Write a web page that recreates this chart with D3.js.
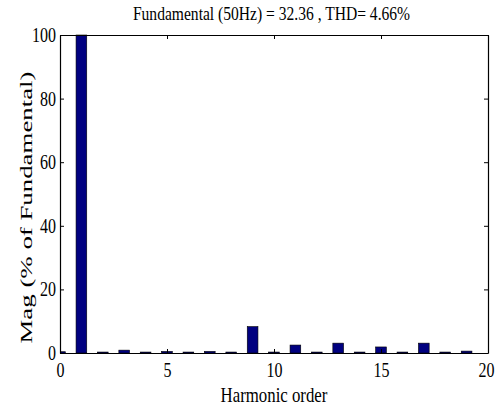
<!DOCTYPE html>
<html>
<head>
<meta charset="utf-8">
<script src="https://cdn.jsdelivr.net/npm/d3@7"></script>
<style>
body { margin: 0; background: #fff; }
text { font-family: "Liberation Serif", "Times New Roman", serif; }
</style>
</head>
<body>
<div id="chart"></div>
<script>
var harmonics = [0, 1, 2, 3, 4, 5, 6, 7, 8, 9, 10, 11, 12, 13, 14, 15, 16, 17, 18, 19]
var mags = [0.4, 100, 0.3, 0.9, 0.3, 0.5, 0.3, 0.5, 0.3, 8.3, 0.3, 2.5, 0.3, 3.1, 0.3, 1.9, 0.3, 3.1, 0.3, 0.6]
var xTicks = [0, 5, 10, 15, 20]
var yTicks = [0, 20, 40, 60, 80, 100]
var titleText = 'Fundamental (50Hz) = 32.36 , THD= 4.66%'

var width = 498, height = 410
var margin = {top: 35, right: 10, bottom: 57, left: 60}

var x = d3.scaleLinear()
    .domain([0, 20])
    .range([margin.left, width - margin.right])

var y = d3.scaleLinear()
    .domain([0, 100])
    .range([height - margin.bottom, margin.top])

var svg = d3.select('#chart').append('svg')
    .attr('width', width)
    .attr('height', height)

// the original figure was squashed sideways, so squeeze text to match
function squeeze(sel, f) {
    sel.each(function() {
        var len = this.getComputedTextLength()
        d3.select(this).attr('textLength', len * f).attr('lengthAdjust', 'spacingAndGlyphs')
    })
}

svg.append('defs').append('clipPath')
    .attr('id', 'plotclip')
    .append('rect')
    .attr('x', margin.left)
    .attr('y', margin.top - 1)
    .attr('width', width - margin.left - margin.right)
    .attr('height', height - margin.top - margin.bottom + 1)

// bars
var barW = x(0.5) - x(0)
svg.append('g')
    .attr('clip-path', 'url(#plotclip)')
    .selectAll('rect')
    .data(harmonics)
    .enter().append('rect')
    .attr('x', (d, i) => x(d) - barW / 2)
    .attr('y', (d, i) => y(mags[i]))
    .attr('width', barW)
    .attr('height', (d, i) => y(0) - y(mags[i]))
    .attr('fill', '#000080')
    .attr('stroke', '#000')
    .attr('stroke-width', 0.6)

// axes, ticks inward like matlab
var xAx = svg.append('g')
    .attr('transform', 'translate(0,' + y(0) + ')')
    .call(d3.axisBottom(x).tickValues(xTicks).tickSizeInner(-4).tickSizeOuter(0).tickPadding(10))
svg.append('g')
    .attr('transform', 'translate(0,' + y(100) + ')')
    .call(d3.axisTop(x).tickValues(xTicks).tickSizeInner(-4).tickSizeOuter(0).tickFormat(''))
svg.append('g')
    .attr('transform', 'translate(' + x(0) + ',0)')
    .call(d3.axisLeft(y).tickValues(yTicks).tickSizeInner(-4).tickSizeOuter(0).tickPadding(4))
svg.append('g')
    .attr('transform', 'translate(' + x(20) + ',0)')
    .call(d3.axisRight(y).tickValues(yTicks).tickSizeInner(-4).tickSizeOuter(0).tickFormat(''))

svg.selectAll('.domain').attr('stroke', '#000').attr('stroke-width', 1.2)
svg.selectAll('.tick line').attr('stroke', '#000')
svg.selectAll('.tick text')
    .attr('fill', '#000')
    .style('font-size', '20px')
    .style('font-family', '"Liberation Serif", serif')
    .call(squeeze, 0.8)

// keep the last x label inside the window
xAx.selectAll('.tick text').filter(d => d === 20).attr('dx', -2)

svg.append('text')
    .attr('x', 271.5)
    .attr('y', 20)
    .attr('text-anchor', 'middle')
    .style('font-size', '18px')
    .text(titleText)
    .call(squeeze, 0.865)

svg.append('text')
    .attr('x', 274)
    .attr('y', 401.5)
    .attr('text-anchor', 'middle')
    .style('font-size', '21px')
    .text('Harmonic order')
    .call(squeeze, 0.8)

var ylab = svg.append('text')
    .attr('transform', 'translate(32,' + 207.5 + ') rotate(-90)')
    .attr('text-anchor', 'middle')
    .style('font-size', '17px')
    .text('Mag (% of Fundamental)')
ylab.attr('textLength', 272).attr('lengthAdjust', 'spacingAndGlyphs')
</script>
</body>
</html>
